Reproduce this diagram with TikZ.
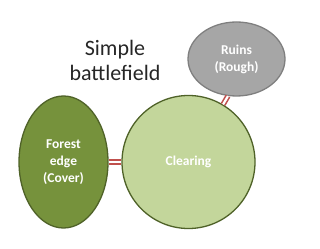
\documentclass[tikz,border=0pt]{standalone}
\usepackage{fontspec}
\setmainfont{Carlito}
\usetikzlibrary{shapes.geometric}
\definecolor{forestfill}{HTML}{76923C}
\definecolor{clearfill}{HTML}{C3D69B}
\definecolor{greenline}{HTML}{4F6228}
\definecolor{ruinsfill}{HTML}{A6A6A6}
\definecolor{ruinsline}{HTML}{7F7F7F}
\definecolor{linkred}{HTML}{C0504D}
\definecolor{titlegray}{HTML}{262626}
\tikzset{
  area/.style={ellipse, inner sep=0pt, line width=1.3pt, text=white,
    font=\bfseries\fontsize{13.5}{17}\selectfont, align=center},
  link/.style={draw=linkred, double=white, line width=1.6pt, double distance=2.2pt}
}
\begin{document}
\begin{tikzpicture}[x=1pt,y=1pt]
\useasboundingbox (0,0) rectangle (320,248);
\node[area, fill=forestfill, draw=greenline, minimum width=89, minimum height=132] (forest) at (63.5,86) {Forest\\edge\\(Cover)};
\node[area, fill=clearfill, draw=greenline, minimum width=133, minimum height=133] (clear) at (188.5,86) {Clearing};
\node[area, fill=ruinsfill, draw=ruinsline, minimum width=97, minimum height=74] (ruins) at (236.5,189) {Ruins\\(Rough)};
\node[text=titlegray, align=center, font=\fontsize{22}{25}\selectfont] (title) at (115,188) {Simple\\battlefield};
\draw[link] (forest) -- (clear);
\draw[link] (ruins.257) -- (clear.59);
\end{tikzpicture}
\end{document}
